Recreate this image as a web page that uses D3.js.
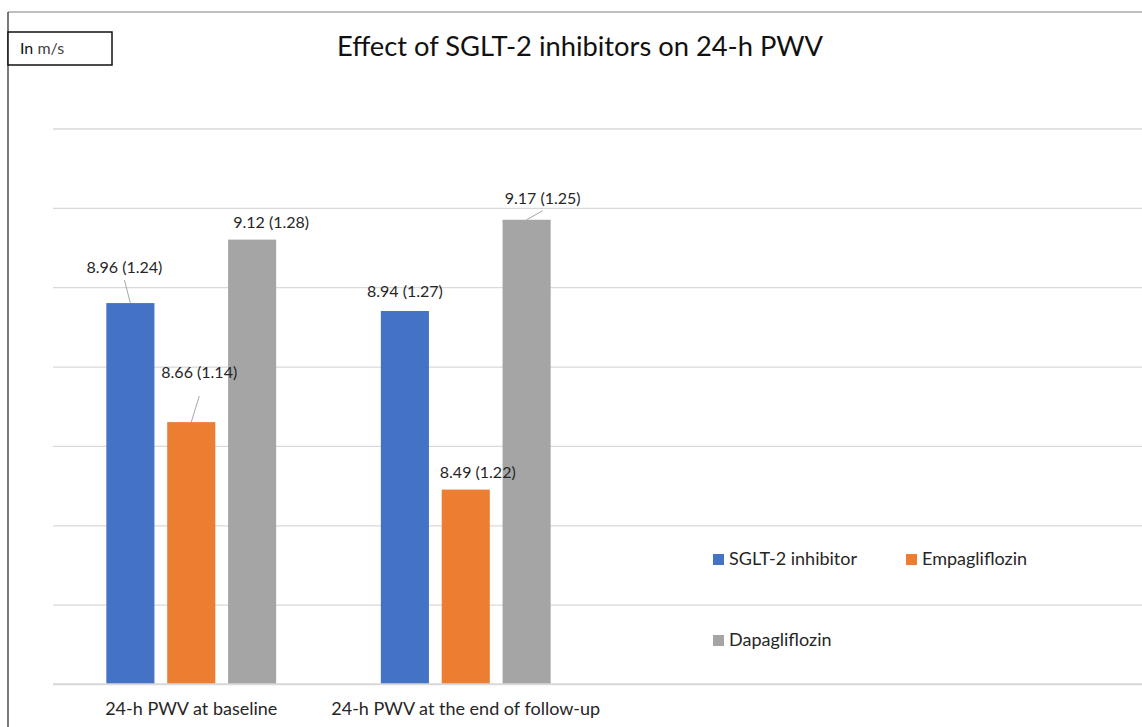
<!DOCTYPE html>
<html>
<head>
<meta charset="utf-8">
<script src="https://cdn.jsdelivr.net/npm/d3@7"></script>
<style>
  html, body { margin: 0; padding: 0; background: #fff; }
  svg { display: block; font-family: Lato, "Open Sans", sans-serif; }
</style>
</head>
<body>
<svg id="chart" width="1142" height="727"></svg>
<script>
// PWV chart, values
const categories = ["24-h PWV at baseline", "24-h PWV at the end of follow-up"];
const seriesNames = ["SGLT-2 inhibitor", "Empagliflozin", "Dapagliflozin"];
const seriesColors = ["#4472C4", "#ED7D31", "#A5A5A5"];
// mean per category, one entry per series
const meanBaseline = [8.96, 8.66, 9.12];
const meanFollowUp = [8.94, 8.49, 9.17];
// SD shown in brackets
const sdBaseline = [1.24, 1.14, 1.28];
const sdFollowUp = [1.27, 1.22, 1.25];
const yDomain = [8.0, 9.4];

// where excel pushed the labels (relative to the bar top), lead = leader line gap
const labelNudge = [
  [{dx: -6, dy: -30, lead: 7}, {dx: 8, dy: -44, lead: 18}, {dx: 19, dy: -12}],
  [{dx: 0, dy: -14}, {dx: 12, dy: -12}, {dx: 16, dy: -16, lead: 7}]
];

var means = [meanBaseline, meanFollowUp];
var sds = [sdBaseline, sdFollowUp];

var svg = d3.select('#chart');
var W = 1142, H = 727;

var plot = {left: 54, right: 1142, top: 128.5, bottom: 684};

var y = d3.scaleLinear().domain(yDomain).range([plot.bottom, plot.top]);
var x0 = d3.scaleBand().domain(categories).range([plot.left, plot.left + 2 * 274.5]);
var x1 = d3.scaleBand().domain(seriesNames).range([0, x0.bandwidth()])
  .paddingInner(0.21).paddingOuter(0.86);

// frame of the pasted chart
svg.append('line')
  .attr('x1', 8).attr('x2', W).attr('y1', 12).attr('y2', 12)
  .attr('stroke', '#7f7f7f').attr('stroke-width', 1.2);
svg.append('line')
  .attr('x1', 8).attr('x2', 8).attr('y1', 12).attr('y2', H)
  .attr('stroke', '#222').attr('stroke-width', 1.2);

// gridlines (no tick labels in the original)
var yAxis = d3.axisLeft(y).ticks(7).tickSize(-(plot.right - plot.left + 1)).tickFormat('');
var gy = svg.append('g')
  .attr('class', 'grid')
  .attr('transform', 'translate(' + (plot.left - 1) + ',0)')
  .call(yAxis);
gy.select('.domain').remove();
gy.selectAll('.tick line').attr('stroke', '#d9d9d9').attr('stroke-width', 1.3);

// bars
var rows = [];
categories.forEach(function (c, i) {
  seriesNames.forEach(function (s, j) {
    rows.push({cat: c, ser: s, ci: i, si: j, value: means[i][j], sd: sds[i][j]});
  });
});

svg.append('g').selectAll('rect')
  .data(rows)
  .enter().append('rect')
  .attr('x', function (d) { return x0(d.cat) + x1(d.ser); })
  .attr('y', function (d) { return y(d.value); })
  .attr('width', x1.bandwidth())
  .attr('height', function (d) { return y(yDomain[0]) - y(d.value); })
  .attr('fill', function (d) { return seriesColors[d.si]; });

// baseline axis
svg.append('line')
  .attr('x1', plot.left - 1).attr('x2', plot.right)
  .attr('y1', y(yDomain[0])).attr('y2', y(yDomain[0]))
  .attr('stroke', '#d9d9d9').attr('stroke-width', 1.3);

// data labels + leader lines
function barCenter(d) { return x0(d.cat) + x1(d.ser) + x1.bandwidth() / 2; }
function labelX(d) { return barCenter(d) + labelNudge[d.ci][d.si].dx; }
function labelY(d) { return y(d.value) + labelNudge[d.ci][d.si].dy; }

svg.append('g').selectAll('line')
  .data(rows.filter(function (d) { return labelNudge[d.ci][d.si].lead; }))
  .enter().append('line')
  .attr('x1', labelX)
  .attr('y1', function (d) { return labelY(d) + labelNudge[d.ci][d.si].lead; })
  .attr('x2', barCenter)
  .attr('y2', function (d) { return y(d.value); })
  .attr('stroke', '#a6a6a6').attr('stroke-width', 1);

svg.append('g').selectAll('text')
  .data(rows)
  .enter().append('text')
  .attr('x', labelX)
  .attr('y', labelY)
  .attr('text-anchor', 'middle')
  .attr('font-size', 16)
  .attr('fill', '#262626')
  .text(function (d) { return d.value.toFixed(2) + ' (' + d.sd.toFixed(2) + ')'; });

// category labels
svg.append('g').selectAll('text')
  .data(categories)
  .enter().append('text')
  .attr('x', function (c) { return x0(c) + x0.bandwidth() / 2; })
  .attr('y', 715)
  .attr('text-anchor', 'middle')
  .attr('font-size', 18)
  .attr('fill', '#262626')
  .text(function (c) { return c; });

// title
svg.append('text')
  .attr('x', 580).attr('y', 56)
  .attr('text-anchor', 'middle')
  .attr('font-size', 27.3)
  .attr('fill', '#111')
  .text('Effect of SGLT-2 inhibitors on 24-h PWV');

// unit box
svg.append('rect')
  .attr('x', 8).attr('y', 32).attr('width', 104).attr('height', 33)
  .attr('fill', '#fff').attr('stroke', '#111').attr('stroke-width', 1.5);
var unit = svg.append('text')
  .attr('x', 20).attr('y', 54)
  .attr('font-size', 16)
  .attr('fill', '#111');
unit.append('tspan').text('In ');
unit.append('tspan').attr('fill', '#404040').text('m/s');

// legend, two columns
var legend = svg.append('g').attr('transform', 'translate(713,554)');
var item = legend.selectAll('g')
  .data(seriesNames)
  .enter().append('g')
  .attr('transform', function (d, i) {
    return 'translate(' + ((i % 2) * 193) + ',' + (Math.floor(i / 2) * 81) + ')';
  });
item.append('rect')
  .attr('width', 11).attr('height', 11)
  .attr('fill', function (d, i) { return seriesColors[i]; });
item.append('text')
  .attr('x', 16).attr('y', 11)
  .attr('font-size', 18)
  .attr('fill', '#262626')
  .text(function (d) { return d; });
</script>
</body>
</html>
